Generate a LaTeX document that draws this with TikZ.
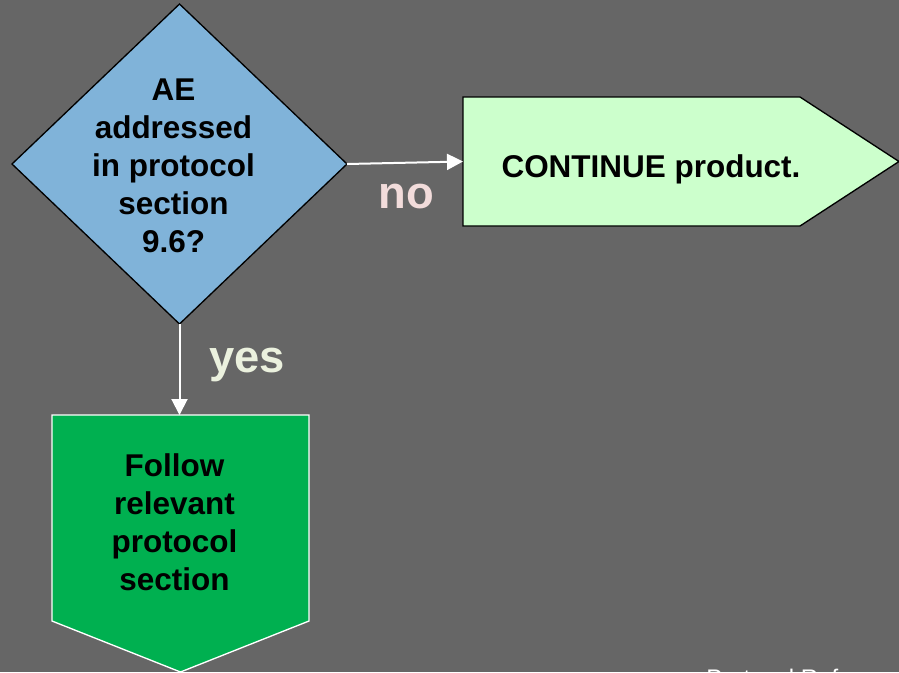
\documentclass[tikz,border=0pt]{standalone}
\usepackage{fontspec}
\setmainfont{Liberation Sans}
\usetikzlibrary{shapes.geometric,arrows.meta,calc}
\definecolor{bggray}{RGB}{102,102,102}
\definecolor{qblue}{RGB}{128,179,217}
\definecolor{mint}{RGB}{204,255,204}
\definecolor{leaf}{RGB}{0,176,80}
\definecolor{nopink}{RGB}{242,220,219}
\definecolor{yescream}{RGB}{235,241,222}
\begin{document}
\begin{tikzpicture}[x=0.75pt,y=-0.75pt,
  boxtext/.style={font=\fontsize{23.6}{28.5}\selectfont\bfseries, align=center, text=black, inner sep=0pt},
  answer/.style={font=\fontsize{34}{40}\selectfont\bfseries, inner sep=0pt},
  flow/.style={draw=white, line width=1.5pt, -{Triangle[length=12pt,width=12pt]}},
  frame/.style={inner sep=0pt, outer sep=0pt}]
  % slide background
  \fill[bggray] (0,0) rectangle (899,672);
  \clip (0,0) rectangle (899,672);

  % decision
  \node[diamond, draw=black, line width=1pt, fill=qblue, frame,
        minimum width=251.25pt, minimum height=240pt] (q) at (179.5,164) {};
  \node[boxtext] (qtext) at (173.5,166) {AE\\addressed\\in protocol\\section\\9.6?};

  % "no" branch: pentagon pointing right
  \node[frame, minimum width=252.75pt, minimum height=96.75pt] (cont) at (631.5,161.5) {};
  \filldraw[fill=mint, draw=black, line width=1pt, line join=miter]
    (cont.north west) -- (cont.north east) -- ($(cont.east)+(99,0)$)
    -- (cont.south east) -- (cont.south west) -- cycle;
  \node[boxtext] (conttext) at (651,169) {CONTINUE product.};

  % "yes" branch: pentagon pointing down
  \node[frame, minimum width=192.75pt, minimum height=154.5pt] (follow) at (180.5,518) {};
  \filldraw[fill=leaf, draw=white, line width=1pt, line join=miter]
    (follow.north west) -- (follow.north east) -- (follow.south east)
    -- ($(follow.south)+(0,51)$) -- (follow.south west) -- cycle;
  \node[boxtext] (followtext) at (174.5,522) {Follow\\relevant\\protocol\\section};

  % connectors
  \draw[flow] (q.east) -- (cont.west);
  \draw[flow] (q.south) -- (q.south |- follow.north);

  % branch labels
  \node[answer, text=nopink] (nolbl) at (406,197) {no};
  \node[answer, text=yescream] (yeslbl) at (247,365) {yes};

  % footer reference
  \node[anchor=north west, inner sep=0pt, text=white,
        font=\fontsize{18}{20}\selectfont] (ref) at (706,669) {Protocol Reference};
\end{tikzpicture}
\end{document}
